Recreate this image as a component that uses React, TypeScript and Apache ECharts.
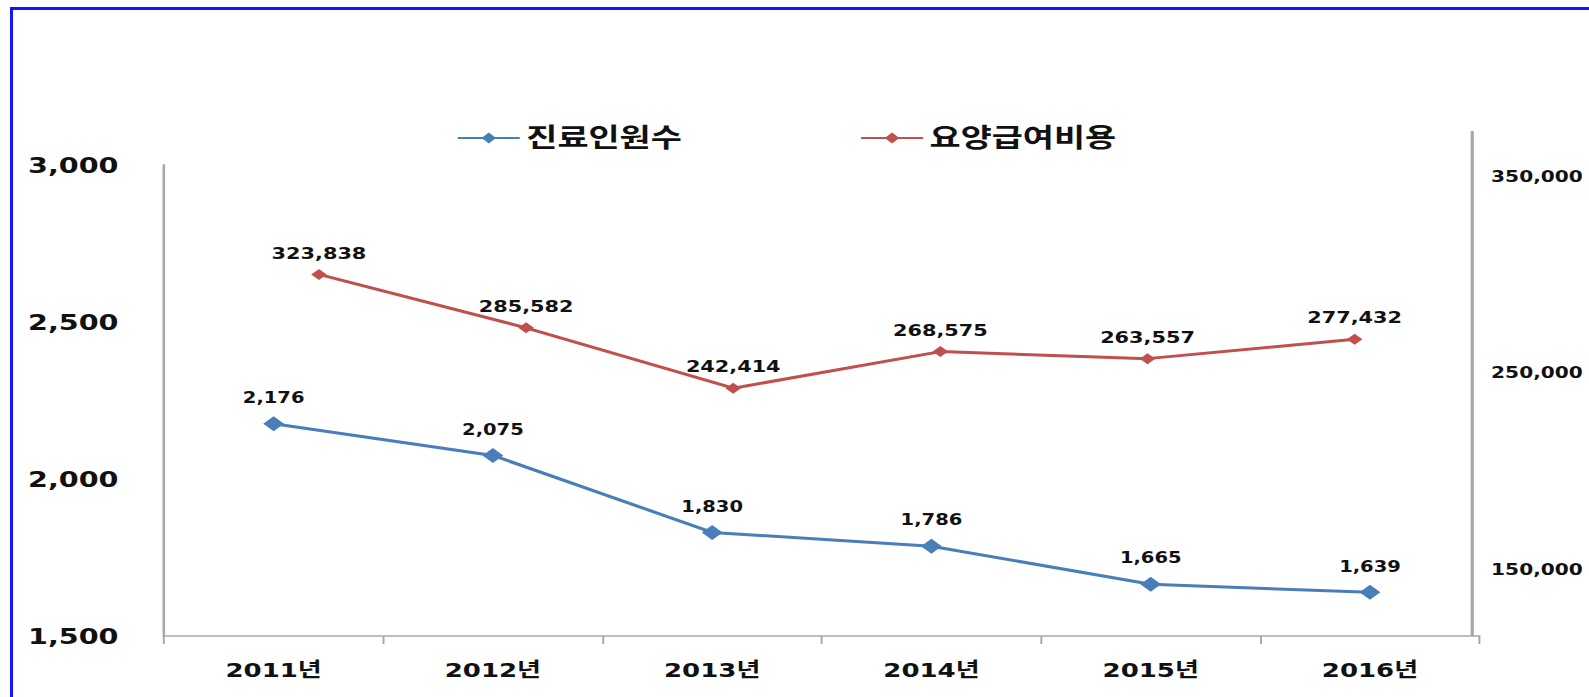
import React, { useEffect, useRef } from "react";
import * as echarts from "echarts";

const years = ["2011년", "2012년", "2013년", "2014년", "2015년", "2016년"];
const patients = [2176, 2075, 1830, 1786, 1665, 1639];
const costs = [323838, 285582, 242414, 268575, 263557, 277432];
const seriesNames = ["진료인원수", "요양급여비용"];
const leftRange = { min: 1500, max: 3000, interval: 500 };
const rightLabelRange = { min: 150000, max: 350000, interval: 100000 };
const costRange = { min: 50000, max: 400000 };

const S = 1.3; // horizontal stretch of the reference picture
const PAGE_W = 1589;
const PAGE_H = 697;
const W = PAGE_W / S;
const px = (x: number) => x / S;

const FONT = '"DejaVu Sans", "Noto Sans CJK KR", sans-serif';
const BLUE = "#4a7ebb";
const RED = "#c0504d";
const AXIS = "#a8a8a8";
const fmt = (v: number) => Number(v).toLocaleString("en-US");

export default function App() {
  const ref = useRef<HTMLDivElement>(null);
  useEffect(() => {
    if (!ref.current) return;
    const chart = echarts.init(ref.current, undefined, { renderer: "svg" });
    const rightEdge = W - px(1472);
    chart.setOption({
      animation: false,
      backgroundColor: "transparent",
      textStyle: { fontFamily: FONT },
      legend: {
        left: px(450),
        top: 120,
        itemWidth: px(62),
        itemHeight: 14,
        itemGap: px(178),
        textStyle: { fontSize: 26, fontWeight: "bold", color: "#111", fontFamily: FONT },
        data: seriesNames,
      },
      grid: [
        { left: px(164), right: W - px(1480), top: 165, bottom: PAGE_H - 636 },
        { left: px(215.4), right: W - px(1458.6), top: 168, bottom: 40 },
        { left: px(1472) - 50, right: rightEdge, top: 132, bottom: PAGE_H - 635 },
        { left: px(1472) - 50, right: rightEdge, top: 176, bottom: PAGE_H - 569 },
      ],
      xAxis: [
        {
          type: "category",
          gridIndex: 0,
          data: years,
          boundaryGap: true,
          axisLine: { show: true, onZero: false, lineStyle: { color: AXIS, width: 1.5 } },
          axisTick: { show: true, length: 8, lineStyle: { color: AXIS, width: 1.5 } },
          axisLabel: { margin: 24, fontSize: 20, fontWeight: "bold", color: "#111", fontFamily: FONT },
        },
        { type: "category", gridIndex: 1, data: years, show: false },
        { type: "value", gridIndex: 2, min: 0, max: 1, show: false },
        { type: "value", gridIndex: 3, min: 0, max: 1, show: false },
      ],
      yAxis: [
        {
          type: "value",
          gridIndex: 0,
          position: "left",
          min: leftRange.min,
          max: leftRange.max,
          interval: leftRange.interval,
          axisLine: { show: true, onZero: false, lineStyle: { color: AXIS, width: 2 } },
          axisTick: { show: false },
          splitLine: { show: false },
          axisLabel: { margin: 35, fontSize: 22, fontWeight: "bold", color: "#111", fontFamily: FONT, formatter: fmt },
        },
        {
          type: "value",
          gridIndex: 1,
          min: costRange.min,
          max: costRange.max,
          show: false,
        },
        {
          type: "value",
          gridIndex: 2,
          position: "right",
          min: 0,
          max: 1,
          axisLine: { show: true, onZero: false, lineStyle: { color: AXIS, width: 2.5 } },
          axisTick: { show: false },
          axisLabel: { show: false },
          splitLine: { show: false },
        },
        {
          type: "value",
          gridIndex: 3,
          position: "right",
          min: rightLabelRange.min,
          max: rightLabelRange.max,
          interval: rightLabelRange.interval,
          axisLine: { show: false, onZero: false },
          axisTick: { show: false },
          splitLine: { show: false },
          axisLabel: { margin: 15, fontSize: 15.5, fontWeight: "bold", color: "#111", fontFamily: FONT, formatter: fmt },
        },
      ],
      series: [
        {
          name: seriesNames[0],
          type: "line",
          xAxisIndex: 0,
          yAxisIndex: 0,
          data: patients,
          symbol: "diamond",
          symbolSize: [16, 15],
          lineStyle: { color: BLUE, width: 3 },
          itemStyle: { color: BLUE },
          label: {
            show: true,
            position: "top",
            distance: 11,
            fontSize: 15,
            lineHeight: 15,
            fontWeight: "bold",
            color: "#111",
            fontFamily: FONT,
            formatter: (p: any) => fmt(p.value),
          },
        },
        {
          name: seriesNames[1],
          type: "line",
          xAxisIndex: 1,
          yAxisIndex: 1,
          data: costs,
          symbol: "diamond",
          symbolSize: [12, 11],
          lineStyle: { color: RED, width: 3 },
          itemStyle: { color: RED },
          label: {
            show: true,
            position: "top",
            distance: 8,
            fontSize: 16,
            lineHeight: 16,
            fontWeight: "bold",
            color: "#111",
            fontFamily: FONT,
            formatter: (p: any) => fmt(p.value),
          },
        },
      ],
    });
    return () => chart.dispose();
  }, []);

  return (
    <div
      style={{
        position: "fixed",
        left: 0,
        top: 0,
        width: PAGE_W,
        height: PAGE_H,
        overflow: "hidden",
        background: "#fff",
      }}
    >
      <div
        style={{
          position: "absolute",
          left: 10,
          top: 7,
          width: PAGE_W - 10,
          height: PAGE_H - 7,
          boxSizing: "border-box",
          borderTop: "3px solid #1414ff",
          borderLeft: "3px solid #1414ff",
        }}
      />
      <div
        ref={ref}
        style={{
          position: "absolute",
          left: 0,
          top: 0,
          width: W,
          height: PAGE_H,
          transform: `scaleX(${S})`,
          transformOrigin: "0 0",
        }}
      />
    </div>
  );
}
